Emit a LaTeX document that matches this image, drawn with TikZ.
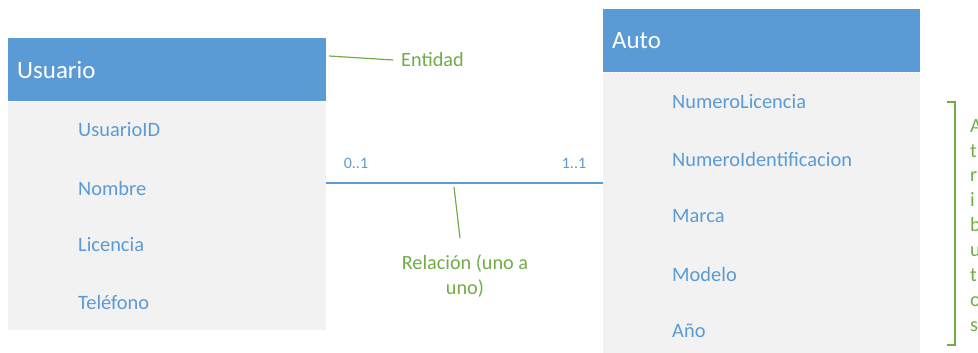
\documentclass[tikz,border=0pt]{standalone}
\usepackage{fontspec}
\setmainfont{Carlito}
\usepackage{tikz}
\usetikzlibrary{positioning}
\definecolor{hdrblue}{HTML}{5B9BD5}
\definecolor{bodygray}{HTML}{F2F2F2}
\definecolor{notegreen}{HTML}{70AD47}
\tikzset{
  hdr/.style={fill=hdrblue,text=white,anchor=north west,inner sep=0pt,align=left,minimum height=63bp,font=\fontsize{25}{29}\selectfont},
  bodybox/.style={fill=bodygray,anchor=north west,inner sep=0pt,minimum width=318bp},
  attr/.style={anchor=west,inner sep=0pt,text=hdrblue,font=\fontsize{20.5}{24}\selectfont},
  mult/.style={inner sep=0pt,text=hdrblue,font=\fontsize{16}{19}\selectfont},
  note/.style={inner sep=0pt,text=notegreen,font=\fontsize{20.3}{25}\selectfont},
  noteline/.style={draw=notegreen,line width=1.2bp},
  sep/.style={white,line width=1bp,dash pattern=on 2bp off 2bp}
}
\begin{document}
\begin{tikzpicture}
\useasboundingbox (0bp,0bp) rectangle (978bp,-353bp);
% entidad Usuario
\node (UsuarioB) at (8bp,-101bp)[bodybox,minimum height=229bp] {};
\node (UsuarioH) at (8bp,-38bp)[hdr,text width=318bp] {\hspace*{9bp}Usuario};
\draw [sep] (UsuarioH.south west) -- (UsuarioH.south east);
\node (UsuarioID) at (78bp,-130bp)[attr] {UsuarioID};
\node (Nombre) at (78bp,-188bp)[attr] {Nombre};
\node (Licencia) at (78bp,-245bp)[attr] {Licencia};
\node (Telefono) at (78bp,-302bp)[attr] {Teléfono};
% entidad Auto
\node (AutoB) at (603bp,-72bp)[bodybox,minimum width=317bp,minimum height=300bp] {};
\node (AutoH) at (603bp,-9bp)[hdr,text width=317bp] {\hspace*{9bp}Auto};
\draw [sep] (AutoH.south west) -- (AutoH.south east);
\node (NumeroLicencia) at (672bp,-102bp)[attr] {NumeroLicencia};
\node (NumeroIdentificacion) at (672bp,-159bp)[attr] {NumeroIdentificacion};
\node (Marca) at (672bp,-216bp)[attr] {Marca};
\node (Modelo) at (672bp,-274bp)[attr] {Modelo};
\node (Anio) at (672bp,-331bp)[attr] {Año};
% relacion
\coordinate (relL) at (326bp,-183bp);
\coordinate (relR) at (603bp,-183bp);
\draw [hdrblue,line width=1.5bp] (relL) -- (relR);
\node (multL) at (356bp,-163bp)[mult] {0..1};
\node (multR) at (574bp,-163bp)[mult] {1..1};
% notas
\node (Entidad) at (401bp,-60bp)[note,anchor=west] {Entidad};
\coordinate (entTip) at (329bp,-56bp);
\draw [noteline] (entTip) -- ([xshift=-8bp]Entidad.west);
\node (Relacion) at (465bp,-276bp)[note,align=center] {Relación (uno a\\uno)};
\coordinate (relTip) at (454bp,-187bp);
\coordinate (relEnd) at (460bp,-238bp);
\draw [noteline] (relTip) -- (relEnd);
\coordinate (brTop) at (947bp,-102bp);
\coordinate (brBot) at (947bp,-345bp);
\draw [noteline] (brTop) -- ++(8bp,0) |- (brBot);
\node (Atributos) at (970bp,-119bp)[note,anchor=north west,align=left] {A\\t\\r\\i\\b\\u\\t\\o\\s};
\end{tikzpicture}
\end{document}
